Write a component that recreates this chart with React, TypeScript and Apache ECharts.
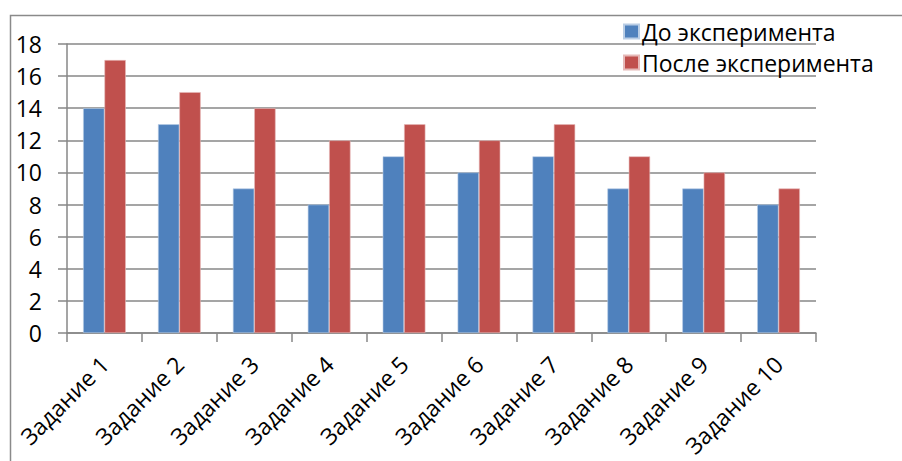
import React, { useEffect, useRef } from "react";
import * as echarts from "echarts";

const categories = [
  "Задание 1",
  "Задание 2",
  "Задание 3",
  "Задание 4",
  "Задание 5",
  "Задание 6",
  "Задание 7",
  "Задание 8",
  "Задание 9",
  "Задание 10",
];
const beforeValues = [14, 13, 9, 8, 11, 10, 11, 9, 9, 8];
const afterValues = [17, 15, 14, 12, 13, 12, 13, 11, 10, 9];
const seriesNames = ["До эксперимента", "После эксперимента"];

const FONT = "'Open Sans', 'Noto Sans', sans-serif";
const GRID_GRAY = "#878787";
const FONT_SIZE = 23;

export default function App() {
  const ref = useRef<HTMLDivElement>(null);

  useEffect(() => {
    if (!ref.current) return;
    const chart = echarts.init(ref.current, null, { renderer: "svg" });
    chart.setOption({
      animation: false,
      backgroundColor: "#ffffff",
      textStyle: { fontFamily: FONT },
      graphic: [
        {
          type: "rect",
          shape: { x: 10.5, y: 15.5, width: 900, height: 460 },
          style: { fill: "none", stroke: "#8a8a8a", lineWidth: 1.5 },
          z: -1,
        },
      ],
      grid: { left: 67, top: 44, right: 86, bottom: 128, containLabel: false },
      legend: {
        orient: "vertical",
        left: 618,
        top: 15,
        itemWidth: 15,
        itemHeight: 14,
        itemGap: 8,
        icon: "rect",
        textStyle: { fontSize: FONT_SIZE, color: "#000", fontFamily: FONT, padding: [0, 0, 0, -2] },
        data: seriesNames,
      },
      xAxis: {
        type: "category",
        data: categories,
        axisLine: { lineStyle: { color: GRID_GRAY, width: 1.5 } },
        axisTick: { show: true, length: 9, alignWithLabel: false, lineStyle: { color: GRID_GRAY, width: 1.5 } },
        axisLabel: {
          rotate: 45,
          margin: 27,
          fontSize: FONT_SIZE,
          color: "#000",
          fontFamily: FONT,
          interval: 0,
        },
      },
      yAxis: {
        type: "value",
        min: 0,
        max: 18,
        interval: 2,
        axisLine: { show: true, lineStyle: { color: GRID_GRAY, width: 1.5 } },
        axisTick: { show: true, length: 9, lineStyle: { color: GRID_GRAY, width: 1.5 } },
        splitLine: { show: true, lineStyle: { color: GRID_GRAY, width: 1.5 } },
        axisLabel: { margin: 25, fontSize: FONT_SIZE, color: "#000", fontFamily: FONT },
      },
      series: [
        {
          name: seriesNames[0],
          type: "bar",
          data: beforeValues,
          barGap: "0%",
          barCategoryGap: "43%",
          itemStyle: { color: "#4F81BD", borderColor: "#b9cde5", borderWidth: 0.6 },
        },
        {
          name: seriesNames[1],
          type: "bar",
          data: afterValues,
          barGap: "0%",
          barCategoryGap: "43%",
          itemStyle: { color: "#C0504D", borderColor: "#e6b9b8", borderWidth: 0.6 },
        },
      ],
    });
    return () => chart.dispose();
  }, []);

  return (
    <div
      ref={ref}
      style={{ position: "fixed", left: 0, top: 0, width: 902, height: 461 }}
    />
  );
}
